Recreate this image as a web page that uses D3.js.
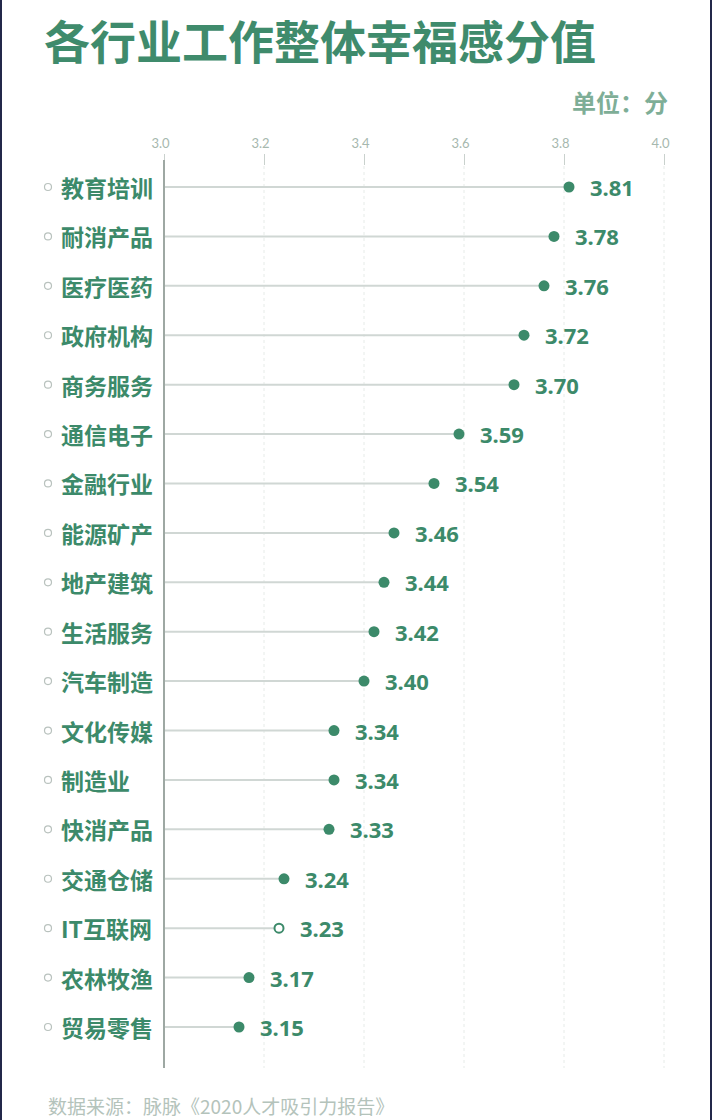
<!DOCTYPE html>
<html>
<head>
<meta charset="utf-8">
<script src="https://cdn.jsdelivr.net/npm/d3@7"></script>
<style>
  body { margin: 0; background: #fff; }
  text { font-family: "Noto Sans CJK SC", "Noto Sans", sans-serif; }
</style>
</head>
<body>
<div id="chart"></div>
<script>
// data
const industries = ['教育培训', '耐消产品', '医疗医药', '政府机构', '商务服务', '通信电子', '金融行业',
    '能源矿产', '地产建筑', '生活服务', '汽车制造', '文化传媒', '制造业', '快消产品', '交通仓储',
    'IT互联网', '农林牧渔', '贸易零售'];
const scores = [3.81, 3.78, 3.76, 3.72, 3.70, 3.59, 3.54, 3.46, 3.44, 3.42, 3.40, 3.34, 3.34, 3.33,
    3.24, 3.23, 3.17, 3.15];
const highlighted = ['IT互联网'];
const tickValues = [3.0, 3.2, 3.4, 3.6, 3.8, 4.0];

const width = 712;
const height = 1120;
const green = '#3c8a6a';

const svg = d3.select('#chart')
    .append('svg')
    .attr('width', width)
    .attr('height', height);

// frame edges
svg.append('rect').attr('x', 0).attr('y', 0).attr('width', 2).attr('height', height).attr('fill', '#23284a');
svg.append('rect').attr('x', width - 2).attr('y', 0).attr('width', 2).attr('height', height).attr('fill', '#23284a');

// title
svg.append('text')
    .attr('x', 44)
    .attr('y', 39)
    .attr('dominant-baseline', 'central')
    .style('font-size', '46px')
    .style('font-weight', 700)
    .style('fill', '#3f8b6c')
    .text('各行业工作整体幸福感分值');

svg.append('text')
    .attr('x', 668)
    .attr('y', 101)
    .attr('text-anchor', 'end')
    .attr('dominant-baseline', 'central')
    .style('font-size', '24px')
    .style('font-weight', 700)
    .style('fill', '#7eae97')
    .text('单位：分');

const x = d3.scaleLinear()
    .domain([3, 4])
    .range([164, 664]);

const y = d3.scalePoint()
    .domain(industries)
    .range([187, 1027]);

const data = industries.map((d, i) => ({ name: d, value: scores[i] }));

// grid lines
svg.append('g')
    .selectAll('line')
    .data(tickValues.slice(1))
    .join('line')
    .attr('x1', d => x(d))
    .attr('x2', d => x(d))
    .attr('y1', 166)
    .attr('y2', 1068)
    .style('stroke', '#e6ebe8')
    .style('stroke-width', 1)
    .style('stroke-dasharray', '3,3');

// top axis with small ticks
const axis = svg.append('g')
    .attr('transform', 'translate(0,154)')
    .call(d3.axisTop(x).tickValues(tickValues).tickFormat(d3.format('.1f')).tickSize(-11).tickPadding(6));
axis.select('.domain').remove();
axis.selectAll('.tick line')
    .style('stroke', '#c9d1cd');
axis.selectAll('.tick text')
    .attr('dx', -4)
    .style('font-size', '13px')
    .style('fill', '#a6b8ae')
    .style('font-family', 'Lato, "Noto Sans", sans-serif');

// stems
svg.append('g')
    .selectAll('line')
    .data(data)
    .join('line')
    .attr('x1', x(3))
    .attr('x2', d => x(d.value))
    .attr('y1', d => y(d.name))
    .attr('y2', d => y(d.name))
    .style('stroke', '#d0d7d4')
    .style('stroke-width', 2);

// vertical baseline
svg.append('line')
    .attr('x1', x(3))
    .attr('x2', x(3))
    .attr('y1', 160)
    .attr('y2', 1068)
    .style('stroke', '#9ea8a3')
    .style('stroke-width', 2);

// dots
svg.append('g')
    .selectAll('circle')
    .data(data)
    .join('circle')
    .attr('cx', d => x(d.value))
    .attr('cy', d => y(d.name))
    .attr('r', d => highlighted.includes(d.name) ? 4.5 : 5.5)
    .style('fill', d => highlighted.includes(d.name) ? '#fff' : green)
    .style('stroke', green)
    .style('stroke-width', d => highlighted.includes(d.name) ? 2 : 0);

// value labels
svg.append('g')
    .selectAll('text')
    .data(data)
    .join('text')
    .attr('x', d => x(d.value) + 21)
    .attr('y', d => y(d.name))
    .attr('dominant-baseline', 'central')
    .style('font-size', '22px')
    .style('font-weight', 700)
    .style('fill', green)
    .style('font-family', '"Noto Sans", sans-serif')
    .text(d => d3.format('.2f')(d.value));

// category labels
svg.append('g')
    .selectAll('text')
    .data(data)
    .join('text')
    .attr('x', 61)
    .attr('y', d => y(d.name))
    .attr('dominant-baseline', 'central')
    .style('font-size', '23px')
    .style('font-weight', 700)
    .style('fill', green)
    .text(d => d.name);

// small bullet markers
svg.append('g')
    .selectAll('circle')
    .data(data)
    .join('circle')
    .attr('cx', 48)
    .attr('cy', d => y(d.name))
    .attr('r', 3.5)
    .style('fill', '#fff')
    .style('stroke', '#b9c2be')
    .style('stroke-width', 1.2);

// source
svg.append('text')
    .attr('x', 48)
    .attr('y', 1105)
    .attr('dominant-baseline', 'central')
    .style('font-size', '19px')
    .style('fill', '#b4c3bb')
    .text('数据来源：脉脉《2020人才吸引力报告》');
</script>
</body>
</html>
